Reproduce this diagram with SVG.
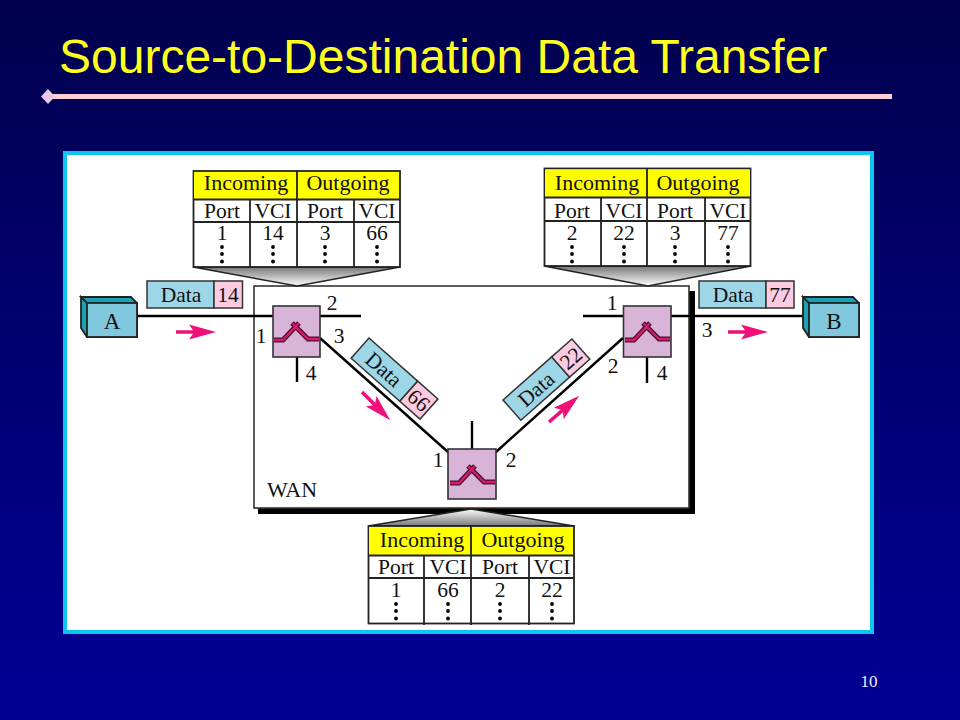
<svg xmlns="http://www.w3.org/2000/svg" width="960" height="720" viewBox="0 0 960 720">
<style>
.t{font-family:"Liberation Serif","Times New Roman",serif;fill:#111}
.h{font-size:22px;text-anchor:middle}
.c{font-size:21.500px;text-anchor:middle}
.p{font-size:21.500px;text-anchor:middle}
.frame{fill:#fff;stroke:#222;stroke-width:1.800}
.grid{fill:none;stroke:#222;stroke-width:1.800}
.yellow{fill:#ffff00}
.wire{fill:none;stroke:#000;stroke-width:2.400}
.pk{stroke:#333;stroke-width:1.500}
.d{fill:#9dd6e6}
.n{fill:#fccbe2}
.sw{fill:#d8b5d8;stroke:#333;stroke-width:1.600}
.x1{fill:none;stroke:#4a1030;stroke-width:5}
.x2{fill:none;stroke:#d81a6c;stroke-width:2.400}
.dot{fill:#000}
.fn{stroke:#222;stroke-width:1.500}
</style>
<defs>
<linearGradient id="bg" x1="0" y1="0" x2="0" y2="1"><stop offset="0" stop-color="#00004e"/><stop offset="1" stop-color="#000096"/></linearGradient>
<linearGradient id="fd" x1="0" y1="0" x2="0" y2="1"><stop offset="0" stop-color="#777"/><stop offset="1" stop-color="#fff"/></linearGradient>
<linearGradient id="fu" x1="0" y1="1" x2="0" y2="0"><stop offset="0" stop-color="#777"/><stop offset="1" stop-color="#fff"/></linearGradient>
<g id="arrow"><path d="M0-1.800H17L13-7.500 40 0 13 7.500 17 1.800H0z" fill="#f0107a"/></g>
<g id="cross">
<path class="x1" d="M1 34H10L26 17M46 33H35L19 17"/>
<path class="x2" d="M1 34H10L26 17M46 33H35L19 17"/>
</g>
<g id="dots"><circle class="dot" cx="0" cy="0" r="1.900"/><circle class="dot" cx="0" cy="7" r="1.900"/><circle class="dot" cx="0" cy="14.500" r="1.900"/></g>
</defs>
<rect width="960" height="720" fill="url(#bg)"/>
<text x="59" y="73" font-family="Liberation Sans,Arial,sans-serif" font-size="48" fill="#ffff1e">Source-to-Destination Data Transfer</text>
<rect x="46" y="94" width="846" height="5" fill="#ffcdd6"/>
<path d="M48 89 55 96.500 48 104 41 96.500z" fill="#e8c8e4"/>
<rect x="65" y="153" width="807" height="479" fill="#fff" stroke="#0cc6f0" stroke-width="4"/>

<g id="wan">
<rect x="258" y="291" width="437" height="223" fill="#000"/>
<rect x="254" y="286" width="435" height="222" fill="#fff" stroke="#333" stroke-width="1.600"/>
<text class="t" x="267" y="497" font-size="22">WAN</text>
</g>

<g id="connectors">
<path class="wire" d="M137 316H273M320 316H361M297 357V382M320 338 448 452M496 452 623 338M472 421V449M583 316H623M671 316H809M647 357V383"/>
<use href="#arrow" transform="translate(176 332)"/>
<use href="#arrow" transform="translate(728 332)"/>
<use href="#arrow" transform="translate(362 392) rotate(45)"/>
<use href="#arrow" transform="translate(549 422) rotate(-41)"/>
</g>

<g id="table-1">
<path class="fn" fill="url(#fd)" d="M193 267 297 286 400 267z"/>
<rect class="frame" x="193.500" y="171" width="206.500" height="96"/>
<path class="yellow" d="M194 172H399V199H194z"/>
<path class="grid" d="M193.500 199.500H400M193.500 222H400M297 171V267M250 199.500V267M354 199.500V267"/>
<g class="t h"><text x="246" y="190">Incoming</text><text x="348" y="190">Outgoing</text></g>
<g class="t c"><text x="222" y="218">Port</text><text x="273" y="218">VCI</text><text x="325" y="218">Port</text><text x="377" y="218">VCI</text>
<text x="222" y="240">1</text><text x="273" y="240">14</text><text x="325" y="240">3</text><text x="377" y="240">66</text></g>
<use href="#dots" x="222" y="247"/><use href="#dots" x="273" y="247"/><use href="#dots" x="325" y="247"/><use href="#dots" x="377" y="247"/>
</g>

<g id="table-2">
<path class="fn" fill="url(#fd)" d="M544 266 648 286 751 266z"/>
<rect class="frame" x="544.500" y="168.500" width="206" height="97.500"/>
<path class="yellow" d="M545 169.500H750V197H545z"/>
<path class="grid" d="M544.500 197.500H750.500M544.500 221H750.500M647 168.500V266M601 197.500V266M705 197.500V266"/>
<g class="t h"><text x="597" y="190">Incoming</text><text x="698" y="190">Outgoing</text></g>
<g class="t c"><text x="572" y="218">Port</text><text x="624" y="218">VCI</text><text x="675" y="218">Port</text><text x="728" y="218">VCI</text>
<text x="572" y="240">2</text><text x="624" y="240">22</text><text x="675" y="240">3</text><text x="728" y="240">77</text></g>
<use href="#dots" x="572" y="247"/><use href="#dots" x="624" y="247"/><use href="#dots" x="675" y="247"/><use href="#dots" x="728" y="247"/>
</g>

<g id="table-3">
<path class="fn" fill="url(#fu)" d="M368 526 471 509 574 526z"/>
<rect class="frame" x="368.500" y="526" width="205.500" height="97.500"/>
<path class="yellow" d="M369 527H573V555H369z"/>
<path class="grid" d="M368.500 555.500H574M368.500 578H574M471 526V625M424 555.500V625M529 555.500V625"/>
<g class="t h"><text x="422" y="547">Incoming</text><text x="523" y="547">Outgoing</text></g>
<g class="t c"><text x="396" y="574">Port</text><text x="448" y="574">VCI</text><text x="500" y="574">Port</text><text x="552" y="574">VCI</text>
<text x="396" y="597">1</text><text x="448" y="597">66</text><text x="500" y="597">2</text><text x="552" y="597">22</text></g>
<use href="#dots" x="396" y="604"/><use href="#dots" x="448" y="604"/><use href="#dots" x="500" y="604"/><use href="#dots" x="552" y="604"/>
</g>

<g id="switch-1"><rect class="sw" x="273" y="306" width="47" height="51"/><use href="#cross" x="273" y="306"/>
<g class="t p"><text x="261" y="343">1</text><text x="332" y="310">2</text><text x="339" y="343">3</text><text x="311" y="380">4</text></g></g>
<g id="switch-2"><rect class="sw" x="623.500" y="306" width="47.500" height="51"/><use href="#cross" x="624" y="306"/>
<g class="t p"><text x="612" y="310">1</text><text x="613" y="373">2</text><text x="707" y="337">3</text><text x="662" y="380">4</text></g></g>
<g id="switch-3"><rect class="sw" x="448" y="449" width="48" height="50"/><use href="#cross" x="449" y="449"/>
<g class="t p"><text x="438" y="467">1</text><text x="511" y="467">2</text></g></g>

<g id="host-a">
<path d="M87 303 81 297H131L137 303V337H87L81 328V297z" fill="#1d9fb4" stroke="#222" stroke-width="1.800"/>
<rect x="87" y="303" width="50" height="34" fill="#7fc8de" stroke="#222" stroke-width="1.800"/>
<text class="t" x="112" y="329" font-size="23" text-anchor="middle">A</text>
</g>
<g id="host-b">
<path d="M809 303 803 297H853L859 303V337H809L803 328V297z" fill="#1d9fb4" stroke="#222" stroke-width="1.800"/>
<rect x="809" y="303" width="50" height="34" fill="#7fc8de" stroke="#222" stroke-width="1.800"/>
<text class="t" x="834" y="329" font-size="23" text-anchor="middle">B</text>
</g>

<g id="packet-14">
<rect class="pk d" x="147" y="281" width="67" height="27"/><rect class="pk n" x="214" y="281" width="28.500" height="27"/>
<text class="t c" x="181" y="302">Data</text><text class="t c" x="228" y="302">14</text>
</g>
<g id="packet-77">
<rect class="pk d" x="699" y="281" width="67" height="27"/><rect class="pk n" x="766" y="281" width="28" height="27"/>
<text class="t c" x="733" y="302">Data</text><text class="t c" x="780" y="302">77</text>
</g>
<g id="packet-66" transform="translate(369 338) rotate(41.500)">
<rect class="pk d" x="0" y="0" width="65" height="27"/><rect class="pk n" x="65" y="0" width="27" height="27"/>
<text class="t c" x="32" y="21">Data</text><text class="t c" x="78.500" y="21">66</text>
</g>
<g id="packet-22" transform="translate(503 400) rotate(-41.500)">
<rect class="pk d" x="0" y="0" width="65" height="27"/><rect class="pk n" x="65" y="0" width="27" height="27"/>
<text class="t c" x="32" y="21">Data</text><text class="t c" x="78.500" y="21">22</text>
</g>
<text x="869" y="687" font-family="Liberation Serif,serif" font-size="17" fill="#f0f0ff" text-anchor="middle">10</text>
</svg>
